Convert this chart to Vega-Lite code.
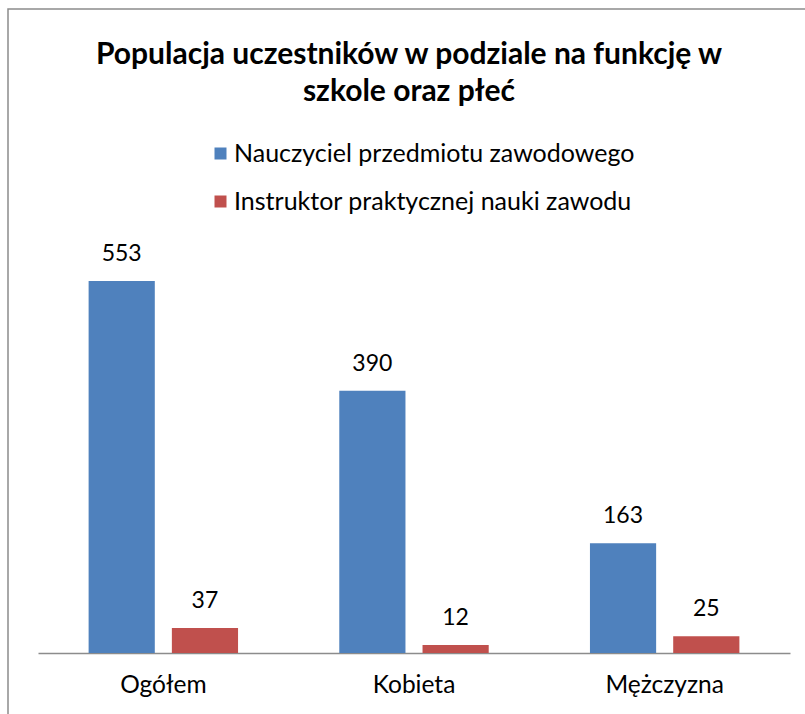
{
  "$schema": "https://vega.github.io/schema/vega-lite/v6.json",
  "autosize": {"type": "none"},
  "width": 802,
  "height": 710,
  "padding": {"left": 8, "top": 9, "right": -5, "bottom": -5},
  "background": "white",
  "config": {
    "font": "Lato",
    "view": {"stroke": "#8c8c8c", "strokeWidth": 1.5}
  },
  "title": {
    "text": ["Populacja uczestników w podziale na funkcję w", "szkole oraz płeć"],
    "font": "Lato",
    "fontSize": 30,
    "fontWeight": "bold",
    "color": "#000000",
    "anchor": "middle",
    "frame": "group",
    "lineHeight": 37,
    "offset": -122,
    "baseline": "alphabetic"
  },
  "data": {
    "values": [
      {"kategoria": "Ogółem", "funkcja": "Nauczyciel przedmiotu zawodowego", "liczba": 553},
      {"kategoria": "Ogółem", "funkcja": "Instruktor praktycznej nauki zawodu", "liczba": 37},
      {"kategoria": "Kobieta", "funkcja": "Nauczyciel przedmiotu zawodowego", "liczba": 390},
      {"kategoria": "Kobieta", "funkcja": "Instruktor praktycznej nauki zawodu", "liczba": 12},
      {"kategoria": "Mężczyzna", "funkcja": "Nauczyciel przedmiotu zawodowego", "liczba": 163},
      {"kategoria": "Mężczyzna", "funkcja": "Instruktor praktycznej nauki zawodu", "liczba": 25}
    ]
  },
  "encoding": {
    "x": {
      "field": "kategoria",
      "type": "nominal",
      "sort": ["Ogółem", "Kobieta", "Mężczyzna"],
      "scale": {"range": [30, 782], "paddingInner": 0, "paddingOuter": 0},
      "axis": {
        "title": null,
        "orient": "bottom",
        "offset": -66,
        "labelAngle": 0,
        "labelFont": "Lato",
        "labelFontSize": 24.5,
        "labelColor": "#000000",
        "labelPadding": 20,
        "ticks": false,
        "domainColor": "#8c8c8c",
        "domainWidth": 1.5
      }
    },
    "xOffset": {
      "field": "funkcja",
      "type": "nominal",
      "sort": ["Nauczyciel przedmiotu zawodowego", "Instruktor praktycznej nauki zawodu"],
      "scale": {"paddingInner": 0.205, "paddingOuter": 0.608}
    },
    "y": {
      "field": "liczba",
      "type": "quantitative",
      "scale": {"domain": [0, 600], "range": [644, 240.4], "nice": false},
      "axis": null
    }
  },
  "layer": [
    {
      "mark": {"type": "bar"},
      "encoding": {
        "color": {
          "field": "funkcja",
          "type": "nominal",
          "sort": ["Nauczyciel przedmiotu zawodowego", "Instruktor praktycznej nauki zawodu"],
          "scale": {
            "domain": ["Nauczyciel przedmiotu zawodowego", "Instruktor praktycznej nauki zawodu"],
            "range": ["#4F81BD", "#C0504D"]
          },
          "legend": {
            "title": null,
            "orient": "none",
            "legendX": 200,
            "legendY": 132,
            "direction": "vertical",
            "symbolType": "square",
            "symbolSize": 144,
            "symbolStrokeWidth": 0,
            "labelFont": "Lato",
            "labelFontSize": 25,
            "labelColor": "#000000",
            "labelLimit": 600,
            "labelOffset": 1,
            "rowPadding": 22
          }
        }
      }
    },
    {
      "mark": {"type": "text", "baseline": "bottom", "dy": -15, "fontSize": 23, "font": "Lato", "color": "#000000"},
      "encoding": {
        "text": {"field": "liczba", "type": "quantitative"}
      }
    }
  ]
}
